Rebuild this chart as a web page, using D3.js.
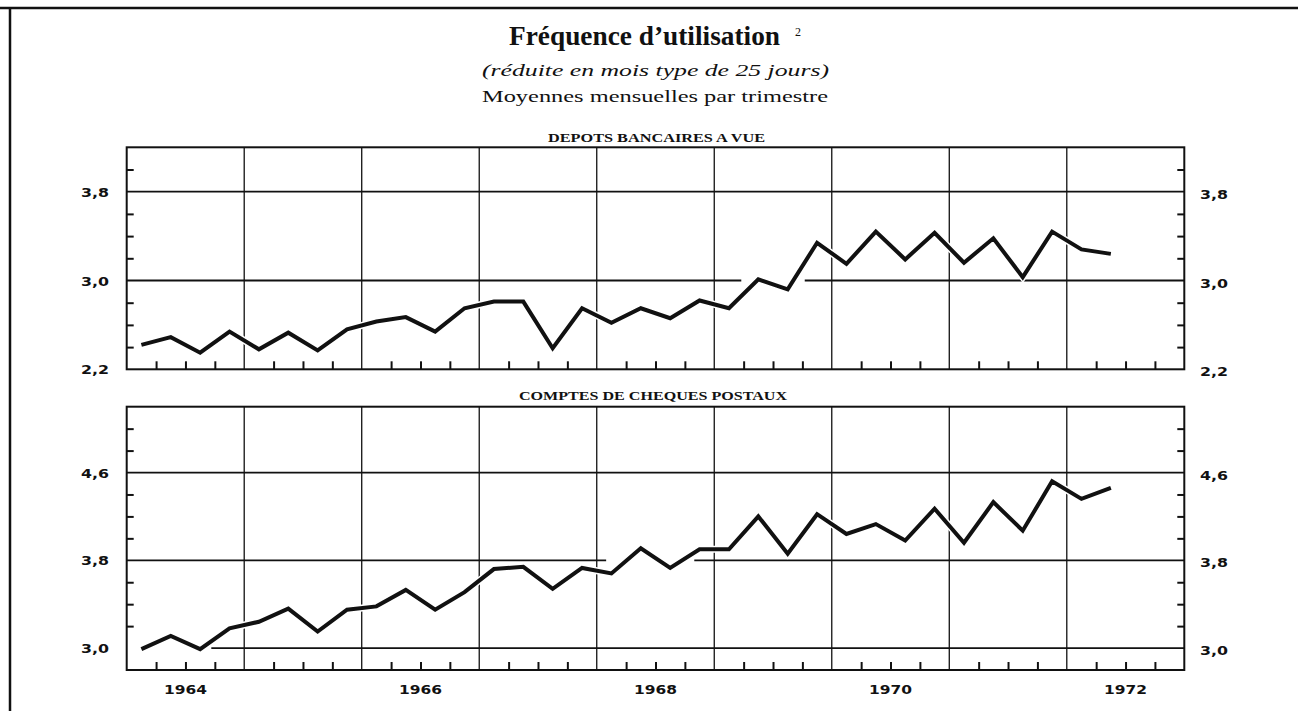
<!DOCTYPE html>
<html>
<head>
<meta charset="utf-8">
<script src="https://cdn.jsdelivr.net/npm/d3@7"></script>
<style>
  html, body { margin: 0; padding: 0; background: #fff; overflow: hidden; }
  svg { display: block; }
  .serif { font-family: "Liberation Serif", "DejaVu Serif", serif; fill: #111; }
  .num { font-family: "DejaVu Sans", sans-serif; font-weight: bold; font-size: 12px; fill: #111; }
</style>
</head>
<body>
<svg id="chart" width="1298" height="711"></svg>
<script>

// quarters, 1964 T1 -> 1972 T2
const quarters = [
  '1964 T1', '1964 T2', '1964 T3', '1964 T4',
  '1965 T1', '1965 T2', '1965 T3', '1965 T4',
  '1966 T1', '1966 T2', '1966 T3', '1966 T4',
  '1967 T1', '1967 T2', '1967 T3', '1967 T4',
  '1968 T1', '1968 T2', '1968 T3', '1968 T4',
  '1969 T1', '1969 T2', '1969 T3', '1969 T4',
  '1970 T1', '1970 T2', '1970 T3', '1970 T4',
  '1971 T1', '1971 T2', '1971 T3', '1971 T4',
  '1972 T1', '1972 T2'
]

const depots = [
  2.42, 2.49, 2.35, 2.54, 2.38, 2.53, 2.37, 2.56,
  2.63, 2.67, 2.54, 2.75, 2.81, 2.81, 2.39, 2.75,
  2.62, 2.75, 2.66, 2.82, 2.75, 3.01, 2.92, 3.34,
  3.15, 3.44, 3.19, 3.43, 3.16, 3.38, 3.03, 3.44,
  3.28, 3.24
]

const cheques = [
  2.99, 3.11, 2.99, 3.18, 3.24, 3.36, 3.15, 3.35,
  3.38, 3.53, 3.35, 3.51, 3.72, 3.74, 3.54, 3.73,
  3.68, 3.91, 3.73, 3.90, 3.90, 4.20, 3.86, 4.22,
  4.04, 4.13, 3.98, 4.27, 3.96, 4.33, 4.07, 4.52,
  4.36, 4.46
]

const years = [1964, 1965, 1966, 1967, 1968, 1969, 1970, 1971, 1972]
const yearLabels = ['1964', '1966', '1968', '1970', '1972']

const depotsMajor = [2.2, 3.0, 3.8]
const chequesMajor = [3.0, 3.8, 4.6]

const fmt = v => d3.format('.1f')(v).replace('.', ',')

const svg = d3.select('#chart')
const ink = '#111'

// page frame (top rule + left rule)
svg.append('line').attr('x1', 0).attr('x2', 1298).attr('y1', 8).attr('y2', 8)
  .attr('stroke', ink).attr('stroke-width', 2.5)
svg.append('line').attr('x1', 10).attr('x2', 10).attr('y1', 8).attr('y2', 711)
  .attr('stroke', ink).attr('stroke-width', 2.5)

// headings
const fit = (sel, w) => sel.attr('textLength', w).attr('lengthAdjust', 'spacingAndGlyphs')

fit(svg.append('text').attr('class', 'serif')
  .attr('x', 509).attr('y', 45)
  .style('font-size', '28px').style('font-weight', 'bold')
  .text('Fréquence d\u2019utilisation'), 271)

svg.append('text').attr('class', 'serif')
  .attr('x', 795).attr('y', 36)
  .style('font-size', '12px')
  .text('2')

fit(svg.append('text').attr('class', 'serif')
  .attr('x', 482).attr('y', 76)
  .style('font-size', '17px').style('font-style', 'italic')
  .text('(réduite en mois type de 25 jours)'), 347)

fit(svg.append('text').attr('class', 'serif')
  .attr('x', 482).attr('y', 101.5)
  .style('font-size', '17px')
  .text('Moyennes mensuelles par trimestre'), 346)

const x = d3.scaleLinear().domain([1964, 1973]).range([126.7, 1184.3])

const qx = q => {
  const [yr, t] = q.split(' T')
  return +yr + (+t - 0.5) / 4
}

const panels = [
  {
    title: 'DEPOTS BANCAIRES A VUE', titleX: 548, titleW: 217, titleY: 142,
    values: depots, domain: [2.2, 4.2], major: depotsMajor,
    top: 147.3, bottom: 369.3,
    breaks: { '3': [[1969.23, 1969.77]] }
  },
  {
    title: 'COMPTES DE CHEQUES POSTAUX', titleX: 519, titleW: 268, titleY: 400,
    values: cheques, domain: [2.8, 5.2], major: chequesMajor,
    top: 406.7, bottom: 670,
    breaks: { '3': [[1964, 1964.72]], '3.8': [[1968.08, 1968.83]] }
  }
]

const quarterTicks = years.flatMap(yr => [yr + 0.25, yr + 0.5, yr + 0.75])

panels.forEach((p, pi) => {

  const y = d3.scaleLinear().domain(p.domain).range([p.bottom, p.top])

  const g = svg.append('g')

  fit(g.append('text').attr('class', 'serif')
    .attr('x', p.titleX).attr('y', p.titleY)
    .style('font-size', '13px').style('font-weight', 'bold')
    .text(p.title), p.titleW)

  // vertical year grid
  g.selectAll('.vgrid')
    .data(years.slice(1))
    .enter()
    .append('line')
    .attr('x1', d => x(d)).attr('x2', d => x(d))
    .attr('y1', p.top).attr('y2', p.bottom)
    .attr('stroke', ink).attr('stroke-width', 1.3)

  // horizontal major grid, broken where the draughtsman left gaps
  p.major.filter(v => v > p.domain[0]).forEach(v => {
    const gaps = p.breaks[String(v)] || []
    let start = 1964
    const segs = []
    gaps.forEach(([a, b]) => { segs.push([start, a]); start = b })
    segs.push([start, 1973])
    segs.filter(s => s[1] > s[0]).forEach(([a, b]) => {
      g.append('line')
        .attr('x1', x(a)).attr('x2', x(b))
        .attr('y1', y(v)).attr('y2', y(v))
        .attr('stroke', ink).attr('stroke-width', 1.8)
    })
  })

  const line = d3.line()
    .x((d, i) => x(qx(quarters[i])))
    .y(d => y(d))

  // thin white casing under the curve
  g.append('path')
    .datum(p.values)
    .attr('d', line)
    .attr('fill', 'none')
    .attr('stroke', '#fff')
    .attr('stroke-width', 7)
    .attr('stroke-linejoin', 'miter')

  g.append('path')
    .datum(p.values)
    .attr('d', line)
    .attr('fill', 'none')
    .attr('stroke', ink)
    .attr('stroke-width', 4)
    .attr('stroke-linejoin', 'miter')

  // minor y ticks
  const minor = d3.range(Math.round((p.domain[1] - p.domain[0]) / 0.2) + 1)
    .map(i => +(p.domain[0] + i * 0.2).toFixed(1))
    .filter(v => v > p.domain[0] && v < p.domain[1] && !p.major.includes(v))

  const left = g.append('g')
    .attr('transform', `translate(${x(1964)},0)`)
    .call(d3.axisLeft(y).tickValues(minor).tickSize(-7).tickFormat(''))
  const right = g.append('g')
    .attr('transform', `translate(${x(1973)},0)`)
    .call(d3.axisRight(y).tickValues(minor).tickSize(-7).tickFormat(''))
  const bottom = g.append('g')
    .attr('transform', `translate(0,${p.bottom})`)
    .call(d3.axisBottom(x).tickValues(quarterTicks).tickSize(-8).tickFormat(''))

  ;[left, right, bottom].forEach(a => {
    a.select('.domain').remove()
    a.selectAll('line').attr('stroke', ink).attr('stroke-width', 2)
  })

  // frame
  g.append('rect')
    .attr('x', x(1964)).attr('y', p.top)
    .attr('width', x(1973) - x(1964)).attr('height', p.bottom - p.top)
    .attr('fill', 'none').attr('stroke', ink).attr('stroke-width', 2)

  // value labels both sides
  g.selectAll('.ylab-l')
    .data(p.major)
    .enter()
    .append('text').attr('class', 'num')
    .attr('x', 81).attr('y', d => y(d) + 5)
    .attr('textLength', 28).attr('lengthAdjust', 'spacingAndGlyphs')
    .text(fmt)

  g.selectAll('.ylab-r')
    .data(p.major)
    .enter()
    .append('text').attr('class', 'num')
    .attr('x', 1200).attr('y', d => y(d) + 7)
    .attr('textLength', 28).attr('lengthAdjust', 'spacingAndGlyphs')
    .text(fmt)

  if (pi === panels.length - 1) {
    g.selectAll('.xlab')
      .data(yearLabels)
      .enter()
      .append('text').attr('class', 'num')
      .attr('x', d => x(+d + 0.5) - 21.5).attr('y', 694)
      .attr('textLength', 43).attr('lengthAdjust', 'spacingAndGlyphs')
      .text(d => d)
  }
})

</script>
</body>
</html>
